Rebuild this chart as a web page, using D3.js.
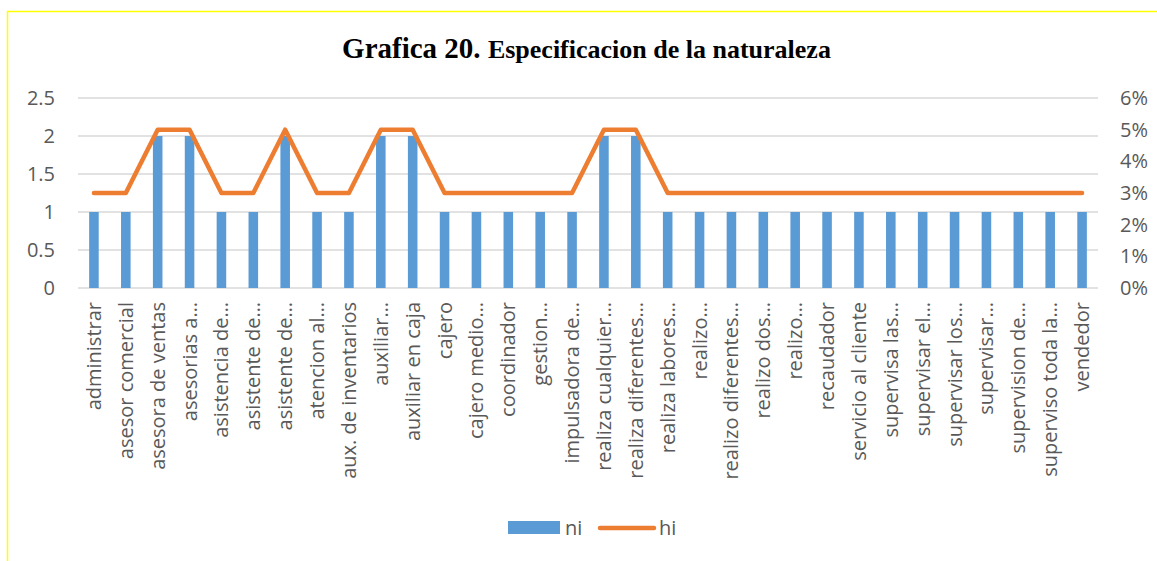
<!DOCTYPE html>
<html>
<head>
<meta charset="utf-8">
<script src="https://cdn.jsdelivr.net/npm/d3@7"></script>
<style>
  body { margin: 0; background: #fff; overflow: hidden; }
  svg { display: block; }
</style>
</head>
<body>
<div id="chart"></div>
<script>
const categories = [
  'administrar', 'asesor comercial', 'asesora de ventas', 'asesorias a…',
  'asistencia de…', 'asistente de…', 'asistente de…', 'atencion al…',
  'aux. de inventarios', 'auxiliar…', 'auxiliar en caja', 'cajero',
  'cajero medio…', 'coordinador', 'gestion…', 'impulsadora de…',
  'realiza cualquier…', 'realiza diferentes…', 'realiza labores…', 'realizo…',
  'realizo diferentes…', 'realizo dos…', 'realizo…', 'recaudador',
  'servicio al cliente', 'supervisa las…', 'supervisar el…', 'supervisar los…',
  'supervisar…', 'supervision de…', 'superviso toda la…', 'vendedor'
]
const ni = [1, 1, 2, 2, 1, 1, 2, 1, 1, 2, 2, 1, 1, 1, 1, 1,
            2, 2, 1, 1, 1, 1, 1, 1, 1, 1, 1, 1, 1, 1, 1, 1]
const hi = [0.03, 0.03, 0.05, 0.05, 0.03, 0.03, 0.05, 0.03, 0.03, 0.05, 0.05, 0.03, 0.03, 0.03, 0.03, 0.03,
            0.05, 0.05, 0.03, 0.03, 0.03, 0.03, 0.03, 0.03, 0.03, 0.03, 0.03, 0.03, 0.03, 0.03, 0.03, 0.03]
const leftTicks = [0, 0.5, 1, 1.5, 2, 2.5]
const rightTicks = [0, 0.01, 0.02, 0.03, 0.04, 0.05, 0.06]

const width = 1157
const height = 561
const margin = { top: 98, right: 59, bottom: 273, left: 78 }
const innerWidth = width - margin.left - margin.right
const innerHeight = height - margin.top - margin.bottom

const font = "'Open Sans', sans-serif"
const textColor = '#595959'

const svg = d3.select('#chart')
  .append('svg')
  .attr('width', width)
  .attr('height', height)

// yellow frame (only top and left edges are inside the picture)
svg.append('path')
  .attr('d', `M7.5,${height} V11.5 H${width}`)
  .attr('fill', 'none')
  .attr('stroke', '#ffff00')
  .attr('stroke-width', 1.5)

// title
const title = svg.append('text')
  .attr('x', width / 2 + 8)
  .attr('y', 58)
  .attr('text-anchor', 'middle')
  .style('font-family', "'Liberation Serif', 'Times New Roman', serif")
  .style('font-weight', 'bold')
  .attr('fill', '#000')
title.append('tspan').style('font-size', '29px').text('Grafica 20. ')
title.append('tspan').style('font-size', '26px').text('Especificacion de la naturaleza')

const g = svg.append('g')
  .attr('transform', `translate(${margin.left}, ${margin.top})`)

const x = d3.scaleBand()
  .domain(d3.range(categories.length))
  .range([0, innerWidth])
  .paddingInner(0.7)
  .paddingOuter(0.35)

const y = d3.scaleLinear()
  .domain([0, 2.5])
  .range([innerHeight, 0])

const y2 = d3.scaleLinear()
  .domain([0, 0.06])
  .range([innerHeight, 0])

// gridlines
g.append('g')
  .selectAll('line')
  .data(leftTicks)
  .join('line')
  .attr('x1', 0)
  .attr('x2', innerWidth)
  .attr('y1', d => y(d))
  .attr('y2', d => y(d))
  .attr('stroke', '#d9d9d9')
  .attr('stroke-width', 1.3)

// left axis
const yAxis = g.append('g')
  .call(d3.axisLeft(y).tickValues(leftTicks).tickSize(0).tickPadding(23).tickFormat(d3.format('')))
yAxis.select('.domain').remove()
yAxis.selectAll('text')
  .style('font-family', font)
  .style('font-size', '20px')
  .attr('fill', textColor)

// right axis
const y2Axis = g.append('g')
  .attr('transform', `translate(${innerWidth}, 0)`)
  .call(d3.axisRight(y2).tickValues(rightTicks).tickSize(0).tickPadding(22).tickFormat(d3.format('.0%')))
y2Axis.select('.domain').remove()
y2Axis.selectAll('text')
  .style('font-family', font)
  .style('font-size', '20px')
  .attr('fill', textColor)

// bars
g.selectAll('rect.bar')
  .data(ni)
  .join('rect')
  .attr('class', 'bar')
  .attr('x', (d, i) => x(i))
  .attr('y', d => y(d))
  .attr('width', x.bandwidth())
  .attr('height', d => innerHeight - y(d))
  .attr('fill', '#5b9bd5')

// line
const line = d3.line()
  .x((d, i) => x(i) + x.bandwidth() / 2)
  .y(d => y2(d))

g.append('path')
  .datum(hi)
  .attr('d', line)
  .attr('fill', 'none')
  .attr('stroke', '#ed7d31')
  .attr('stroke-width', 4.5)
  .attr('stroke-linejoin', 'round')
  .attr('stroke-linecap', 'round')

// category labels
g.append('g')
  .selectAll('text')
  .data(categories)
  .join('text')
  .attr('transform', (d, i) => `translate(${x(i) + x.bandwidth() / 2}, ${innerHeight + 14}) rotate(-90)`)
  .attr('dy', '0.35em')
  .attr('text-anchor', 'end')
  .style('font-family', font)
  .style('font-size', '20px')
  .attr('fill', textColor)
  .text(d => d)

// legend
const legend = svg.append('g')
  .attr('transform', 'translate(508, 528)')

legend.append('rect')
  .attr('x', 0)
  .attr('y', -7)
  .attr('width', 52)
  .attr('height', 13)
  .attr('fill', '#5b9bd5')

legend.append('text')
  .attr('x', 57)
  .attr('y', 0)
  .attr('dy', '0.35em')
  .style('font-family', font)
  .style('font-size', '20px')
  .attr('fill', textColor)
  .text('ni')

legend.append('line')
  .attr('x1', 92)
  .attr('x2', 146)
  .attr('y1', 0)
  .attr('y2', 0)
  .attr('stroke', '#ed7d31')
  .attr('stroke-width', 4.5)
  .attr('stroke-linecap', 'round')

legend.append('text')
  .attr('x', 151)
  .attr('y', 0)
  .attr('dy', '0.35em')
  .style('font-family', font)
  .style('font-size', '20px')
  .attr('fill', textColor)
  .text('hi')
</script>
</body>
</html>
